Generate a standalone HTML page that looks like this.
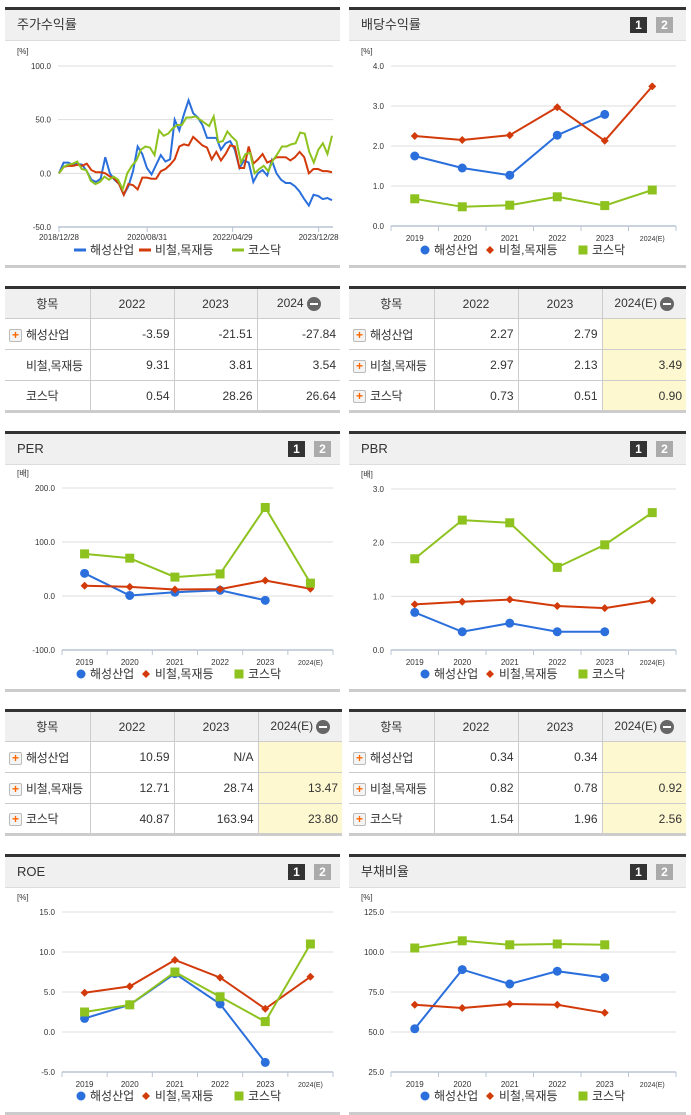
<!DOCTYPE html>
<html><head><meta charset="utf-8">
<style>
*{box-sizing:border-box;margin:0;padding:0}
body{width:691px;height:1115px;background:#fff;position:relative;overflow:hidden;font-family:"Liberation Sans","Noto Sans CJK KR",sans-serif;color:#333}
.panel{position:absolute;border-top:3px solid #333;border-bottom:3px solid #ccc;background:#fff}
.hdr{height:31px;background:#f0f0f0;border-bottom:1px solid #ddd;font-size:13px;line-height:30px;padding-left:12px;color:#333;position:relative}
.btn{position:absolute;top:7px;width:17px;height:16px;font-size:12px;font-weight:bold;color:#fff;text-align:center;line-height:16px}
table{position:absolute;border-collapse:collapse;font-size:12px;border-top:3px solid #333;border-bottom:3px solid #ccc;table-layout:fixed}
td,th{border:1px solid #ccc;height:31px;font-weight:normal;white-space:nowrap;overflow:hidden}
th{background:#f0f0f0;text-align:center}
tr td:first-child,tr th:first-child{border-left:none}
tr td:last-child,tr th:last-child{border-right:none}
td{text-align:right;padding-right:4px}
td.n{text-align:left;padding-left:4px;letter-spacing:-0.3px}
td.y{background:#fdf8d0}
.pl{display:inline-block;width:13px;height:13px;border:1px solid #bbb;background:#f4f4f4;color:#f60;font-weight:bold;font-size:12px;line-height:11px;text-align:center;vertical-align:middle;margin-right:4px;border-radius:2px;letter-spacing:0}
.mi{display:inline-block;width:14px;height:14px;border-radius:7px;background:#666;vertical-align:middle;position:relative;margin-left:3px}
.mi:after{content:"";position:absolute;left:3px;top:6px;width:8px;height:2px;background:#fff}
svg{position:absolute;left:0;top:0}
</style></head><body>

<div class="panel" style="left:5px;top:7px;width:335px;height:261px"><div class="hdr">주가수익률</div></div>
<div class="panel" style="left:349px;top:7px;width:337px;height:261px"><div class="hdr">배당수익률<span class="btn" style="left:281px;background:#333">1</span><span class="btn" style="left:307px;background:#aaa">2</span></div></div>
<div class="panel" style="left:5px;top:431px;width:335px;height:261px"><div class="hdr">PER<span class="btn" style="left:283px;background:#333">1</span><span class="btn" style="left:309px;background:#aaa">2</span></div></div>
<div class="panel" style="left:349px;top:431px;width:337px;height:261px"><div class="hdr">PBR<span class="btn" style="left:281px;background:#333">1</span><span class="btn" style="left:307px;background:#aaa">2</span></div></div>
<div class="panel" style="left:5px;top:854px;width:335px;height:261px"><div class="hdr">ROE<span class="btn" style="left:283px;background:#333">1</span><span class="btn" style="left:309px;background:#aaa">2</span></div></div>
<div class="panel" style="left:349px;top:854px;width:337px;height:261px"><div class="hdr">부채비율<span class="btn" style="left:281px;background:#333">1</span><span class="btn" style="left:307px;background:#aaa">2</span></div></div>

<table style="left:5px;top:286px;width:335px">
<tr><th style="width:85px">항목</th><th style="width:84px">2022</th><th style="width:83px">2023</th><th>2024<span class="mi"></span></th></tr>
<tr><td class="n"><span class="pl">+</span>해성산업</td><td>-3.59</td><td>-21.51</td><td>-27.84</td></tr>
<tr><td class="n" style="padding-left:21px">비철,목재등</td><td>9.31</td><td>3.81</td><td>3.54</td></tr>
<tr><td class="n" style="padding-left:21px">코스닥</td><td>0.54</td><td>28.26</td><td>26.64</td></tr>
</table>
<table style="left:349px;top:286px;width:337px">
<tr><th style="width:85px">항목</th><th style="width:84px">2022</th><th style="width:84px">2023</th><th>2024(E)<span class="mi"></span></th></tr>
<tr><td class="n"><span class="pl">+</span>해성산업</td><td>2.27</td><td>2.79</td><td class="y"></td></tr>
<tr><td class="n"><span class="pl">+</span>비철,목재등</td><td>2.97</td><td>2.13</td><td class="y">3.49</td></tr>
<tr><td class="n"><span class="pl">+</span>코스닥</td><td>0.73</td><td>0.51</td><td class="y">0.90</td></tr>
</table>
<table style="left:5px;top:709px;width:337px">
<tr><th style="width:85px">항목</th><th style="width:84px">2022</th><th style="width:84px">2023</th><th>2024(E)<span class="mi"></span></th></tr>
<tr><td class="n"><span class="pl">+</span>해성산업</td><td>10.59</td><td>N/A</td><td class="y"></td></tr>
<tr><td class="n"><span class="pl">+</span>비철,목재등</td><td>12.71</td><td>28.74</td><td class="y">13.47</td></tr>
<tr><td class="n"><span class="pl">+</span>코스닥</td><td>40.87</td><td>163.94</td><td class="y">23.80</td></tr>
</table>
<table style="left:349px;top:709px;width:337px">
<tr><th style="width:85px">항목</th><th style="width:84px">2022</th><th style="width:84px">2023</th><th>2024(E)<span class="mi"></span></th></tr>
<tr><td class="n"><span class="pl">+</span>해성산업</td><td>0.34</td><td>0.34</td><td class="y"></td></tr>
<tr><td class="n"><span class="pl">+</span>비철,목재등</td><td>0.82</td><td>0.78</td><td class="y">0.92</td></tr>
<tr><td class="n"><span class="pl">+</span>코스닥</td><td>1.54</td><td>1.96</td><td class="y">2.56</td></tr>
</table>

<svg id="s" width="691" height="1115"></svg>

<script>
// Stock return series (%), evenly spaced in time
const stockDates = ["2018/12/28","2020/08/31","2022/04/29","2023/12/28"];
const stockDatePos = [0, 0.323, 0.636, 0.951];
const stockHaesung = [0,10,10,8,9,8,2,-6,-8,-5,15,0,-6,-10,-20,-12,2,25,18,5,-1,8,17,11,13,50,40,55,68,56,52,45,33,33,33,22,28,30,22,5,12,10,-8,0,3,-2,12,0,-6,-9,-9,-12,-17,-24,-30,-20,-21,-24,-23,-25];
const stockMetal = [0,6,7,7,8,7,9,3,1,1,0,-3,-5,-10,-20,-10,-11,-15,-4,-4,-5,-5,2,4,8,13,25,27,26,34,30,26,24,13,20,12,18,26,25,5,5,25,9,13,18,10,12,15,15,15,12,15,20,15,0,4,4,2,2,1];
const stockKosdaq = [0,6,8,9,11,4,3,-7,-10,-8,-3,-6,-3,-6,-15,0,7,12,22,25,24,17,40,35,37,42,45,45,52,52,53,50,47,44,53,29,30,39,34,30,10,18,19,0,4,7,2,12,18,25,25,27,28,38,37,20,10,22,28,18,35];
const stockTicks = [100,50,0,-50];

// Yearly categories
const years = ["2019","2020","2021","2022","2023","2024(E)"];
const divHaesung = [1.75,1.45,1.27,2.27,2.79,null];
const divMetal = [2.25,2.15,2.27,2.97,2.13,3.49];
const divKosdaq = [0.68,0.48,0.52,0.73,0.51,0.90];
const divTicks = [0,1,2,3,4];
const perHaesung = [42,1,7,10.59,-8,null];
const perMetal = [19,17,12,12.71,28.74,13.47];
const perKosdaq = [78,70,35,40.87,163.94,23.8];
const perTicks = [-100,0,100,200];
const pbrHaesung = [0.70,0.34,0.50,0.34,0.34,null];
const pbrMetal = [0.85,0.90,0.94,0.82,0.78,0.92];
const pbrKosdaq = [1.70,2.42,2.37,1.54,1.96,2.56];
const pbrTicks = [0,1,2,3];
const roeHaesung = [1.7,3.4,7.3,3.5,-3.8,null];
const roeMetal = [4.9,5.7,9.0,6.8,2.9,6.9];
const roeKosdaq = [2.5,3.4,7.5,4.4,1.3,11.0];
const roeTicks = [-5,0,5,10,15];
const debtHaesung = [52,89,80,88,84,null];
const debtMetal = [67,65,67.5,67,62,null];
const debtKosdaq = [102.5,107,104.5,105,104.5,null];
const debtTicks = [25,50,75,100,125];
const seriesNames = ["해성산업","비철,목재등","코스닥"];

const C = ["#2a6fdc","#d23a0a","#8dc21f"];
const NS = "http://www.w3.org/2000/svg";
const svg = document.getElementById("s");
function mk(tag, attrs, parent){const e=document.createElementNS(NS,tag);for(const k in attrs)e.setAttribute(k,attrs[k]);(parent||svg).appendChild(e);return e;}
function txt(x,y,s,size,anchor,fill,parent){const t=mk("text",{x:x,y:y,"font-size":size,"text-anchor":anchor||"start",fill:fill||"#333","font-family":"Liberation Sans, Noto Sans CJK KR, sans-serif"},parent);t.textContent=s;return t;}

function axisFrame(g,x0,x1,yTop,yBot,ticks,min,max,unit,unitX){
  const ys=v=>yBot-(v-min)/(max-min)*(yBot-yTop);
  txt(unitX,yTop-12,unit,8,"start","#333",g);
  ticks.forEach(v=>{
    if(v!==min) mk("line",{x1:x0,x2:x1,y1:ys(v),y2:ys(v),stroke:"#ddd","stroke-width":1},g);
    const t=txt(x0-7,ys(v)+3,v.toFixed(1),8,"end","#333",g);
    
  });
  mk("line",{x1:x0,x2:x1,y1:yBot,y2:yBot,stroke:"#b8c4d4","stroke-width":1.5},g);
  return ys;
}

function legend(g,cx,y,kind){
  const xs=[cx-92,cx-27,cx+66];
  seriesNames.forEach((n,i)=>{
    const x=xs[i];
    if(kind==="line") mk("line",{x1:x-7,x2:x+5,y1:y-4,y2:y-4,stroke:C[i],"stroke-width":3},g);
    else marker(g,i,x,y-4,4);
    const t=txt(x+9,y,n,12,"start","#333",g);
    
  });
}

function marker(g,i,x,y,r){
  let m;
  if(i===0) m=mk("circle",{cx:x,cy:y,r:r+0.5,fill:C[0]},g);
  else if(i===1) m=mk("path",{d:`M${x} ${y-r}L${x+r} ${y}L${x} ${y+r}L${x-r} ${y}Z`,fill:C[1]},g);
  else m=mk("rect",{x:x-r-0.5,y:y-r-0.5,width:2*r+1,height:2*r+1,fill:C[2]},g);
  return m;
}

function catChart(name,x0,x1,yTop,yBot,min,max,ticks,series,unit,panelL){
  const g=mk("g",{});
  
  
  const ys=axisFrame(g,x0,x1,yTop,yBot,ticks,min,max,unit,panelL+12);
  const bw=(x1-x0)/years.length;
  const xs=i=>x0+bw*(i+0.5);
  for(let i=0;i<=years.length;i++) mk("line",{x1:x0+bw*i,x2:x0+bw*i,y1:yBot,y2:yBot+5,stroke:"#b8c4d4"},g);
  years.forEach((y,i)=>{const t=txt(xs(i),yBot+15,y,i===5?7:8,"middle","#333",g);});
  series.forEach((arr,si)=>{
    const pts=[];arr.forEach((v,i)=>{if(v!==null)pts.push([xs(i),ys(v)]);});
    const p=mk("polyline",{points:pts.map(p=>p.join(",")).join(" "),fill:"none",stroke:C[si],"stroke-width":2},g);
    
    pts.forEach(pt=>{const m=marker(g,si,pt[0],pt[1],4);});
  });
  legend(g,panelL+168,yBot+28,"marker");
}

// Stock chart
(function(){
  const g=mk("g",{});
  
  
  const x0=58,x1=333,yTop=66,yBot=227;
  const ys=axisFrame(g,x0,x1,yTop,yBot,stockTicks,-50,100,"[%]",17);
  const px=f=>x0+1+f*(x1-x0-2);
  stockDates.forEach((d,i)=>{
    mk("line",{x1:px(stockDatePos[i]),x2:px(stockDatePos[i]),y1:yBot,y2:yBot+5,stroke:"#b8c4d4"},g);
    const t=txt(px(stockDatePos[i]),yBot+13,d,8,"middle","#333",g);
    
  });
  [stockHaesung,stockMetal,stockKosdaq].forEach((arr,si)=>{
    const pts=arr.map((v,i)=>[px(i/(arr.length-1)),ys(v)]);
    const p=mk("polyline",{points:pts.map(p=>p.join(",")).join(" "),fill:"none",stroke:C[si],"stroke-width":2},g);
    
  });
  legend(g,173,254,"line");
})();

catChart("dividend-chart",391,676,66,226,0,4,divTicks,[divHaesung,divMetal,divKosdaq],"[%]",349);
catChart("per-chart",62,333,488,650,-100,200,perTicks,[perHaesung,perMetal,perKosdaq],"[배]",5);
catChart("pbr-chart",391,676,489,650,0,3,pbrTicks,[pbrHaesung,pbrMetal,pbrKosdaq],"[배]",349);
catChart("roe-chart",62,333,912,1072,-5,15,roeTicks,[roeHaesung,roeMetal,roeKosdaq],"[%]",5);
catChart("debt-chart",391,676,912,1072,25,125,debtTicks,[debtHaesung,debtMetal,debtKosdaq],"[%]",349);
</script>
</body></html>
